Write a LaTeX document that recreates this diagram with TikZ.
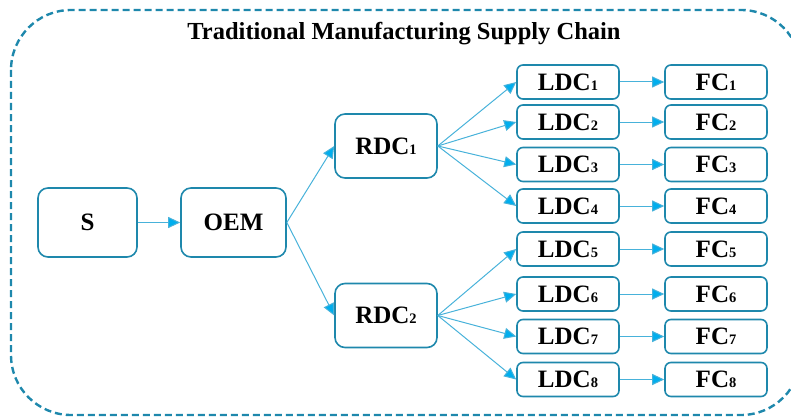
\documentclass[tikz,border=0pt]{standalone}
\usepackage{fontspec}
\setmainfont{Liberation Serif}
\usepackage{tikz}
\usetikzlibrary{arrows.meta}
\usepackage{xcolor}
\definecolor{cteal}{RGB}{30,136,172}
\definecolor{cline}{RGB}{72,178,218}
\definecolor{ctip}{RGB}{0,174,238}
\newcommand{\subn}[1]{{\fontsize{14.5}{14.5}\selectfont #1}}

\begin{document}
\begin{tikzpicture}[x=1pt, y=-1pt,
  big/.style={rectangle, rounded corners=10pt, draw=cteal, line width=1.6pt,
              minimum width=102pt, minimum height=64pt, inner sep=0pt,
              font=\fontsize{25}{25}\selectfont\bfseries},
  small/.style={rectangle, rounded corners=6pt, draw=cteal, line width=1.6pt,
                minimum width=102pt, minimum height=34pt, inner sep=0pt,
                font=\fontsize{25}{25}\selectfont\bfseries},
  arr/.style={-{Triangle[length=12pt, width=11pt, fill=ctip]}, draw=cline, line width=1pt}
]
\useasboundingbox (0,0) rectangle (791,417);
\draw[cteal, line width=2.4pt, dash pattern=on 7pt off 4pt, rounded corners=60pt]
  (11,10) rectangle (801,415);
\node[font=\fontsize{24.5}{25}\selectfont\bfseries] (title) at (404,34) {Traditional Manufacturing Supply Chain};

\node[big, minimum width=99pt, minimum height=69pt] (s) at (87.5,222.5) {S};
\node[big, minimum width=105pt, minimum height=69pt] (oem) at (233.5,222.5) {OEM};
\node[big] (rdc1) at (386,146) {RDC\subn{1}};
\node[big] (rdc2) at (386,315.5) {RDC\subn{2}};

\node[small] (ldc1) at (568,82) {LDC\subn{1}};
\node[small] (ldc2) at (568,122) {LDC\subn{2}};
\node[small] (ldc3) at (568,164.5) {LDC\subn{3}};
\node[small] (ldc4) at (568,206) {LDC\subn{4}};
\node[small] (ldc5) at (568,249) {LDC\subn{5}};
\node[small] (ldc6) at (568,294) {LDC\subn{6}};
\node[small] (ldc7) at (568,336.5) {LDC\subn{7}};
\node[small] (ldc8) at (568,379.5) {LDC\subn{8}};

\node[small] (fc1) at (716,82) {FC\subn{1}};
\node[small] (fc2) at (716,122) {FC\subn{2}};
\node[small] (fc3) at (716,164.5) {FC\subn{3}};
\node[small] (fc4) at (716,206) {FC\subn{4}};
\node[small] (fc5) at (716,249) {FC\subn{5}};
\node[small] (fc6) at (716,294) {FC\subn{6}};
\node[small] (fc7) at (716,336.5) {FC\subn{7}};
\node[small] (fc8) at (716,379.5) {FC\subn{8}};

\draw[arr] (s) -- (oem);
\draw[arr] (oem.east) -- (rdc1.west);
\draw[arr] (oem.east) -- (rdc2.west);
\draw[arr] (rdc1.east) -- (ldc1.west);
\draw[arr] (rdc1.east) -- (ldc2.west);
\draw[arr] (rdc1.east) -- (ldc3.west);
\draw[arr] (rdc1.east) -- (ldc4.west);
\draw[arr] (rdc2.east) -- (ldc5.west);
\draw[arr] (rdc2.east) -- (ldc6.west);
\draw[arr] (rdc2.east) -- (ldc7.west);
\draw[arr] (rdc2.east) -- (ldc8.west);
\draw[arr] (ldc1) -- (fc1);
\draw[arr] (ldc2) -- (fc2);
\draw[arr] (ldc3) -- (fc3);
\draw[arr] (ldc4) -- (fc4);
\draw[arr] (ldc5) -- (fc5);
\draw[arr] (ldc6) -- (fc6);
\draw[arr] (ldc7) -- (fc7);
\draw[arr] (ldc8) -- (fc8);
\end{tikzpicture}
\end{document}
